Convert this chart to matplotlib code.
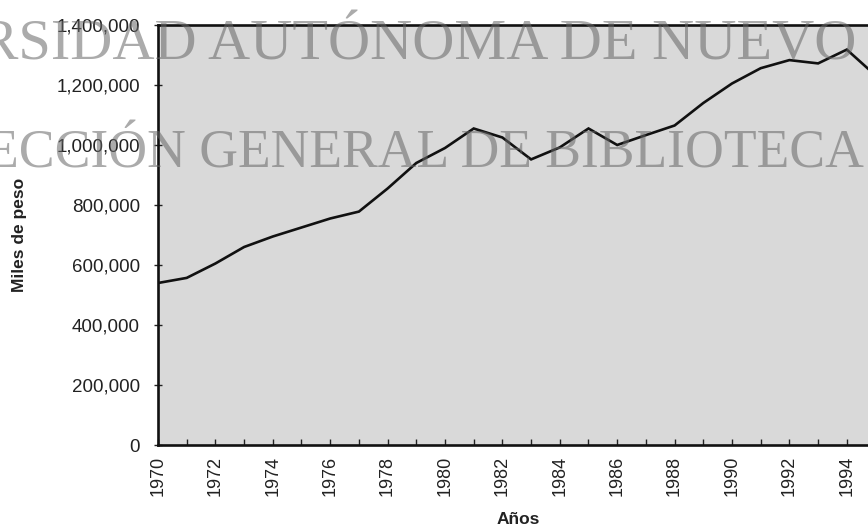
import matplotlib
matplotlib.use('Agg')
import matplotlib.pyplot as plt
from matplotlib.ticker import FuncFormatter, MultipleLocator

# Values (miles de pesos)
years = [1970, 1971, 1972, 1973, 1974, 1975, 1976, 1977, 1978, 1979,
         1980, 1981, 1982, 1983, 1984, 1985, 1986, 1987, 1988, 1989,
         1990, 1991, 1992, 1993, 1994, 1995]
values = [540000, 557000, 605000, 660000, 695000, 725000, 755000, 778000, 855000, 940000,
          990000, 1055000, 1025000, 952000, 992000, 1055000, 1000000, 1033000, 1065000, 1140000,
          1205000, 1256000, 1283000, 1272000, 1318000, 1232000]
x_labels = [str(y) for y in range(1970, 1995, 2)]
watermark = ['UNIVERSIDAD AUTÓNOMA DE NUEVO', 'DIRECCIÓN GENERAL DE BIBLIOTECA']

plt.rcParams['font.family'] = ['Liberation Sans', 'DejaVu Sans']

W, H = 868, 531
fig = plt.figure(figsize=(W / 100, H / 100), dpi=100)
ax = fig.add_axes([158 / W, 1 - 445 / H, (W - 158) / W, (445 - 25) / H])
ax.set_facecolor('#d9d9d9')

ax.plot(years, values, color='#111111', lw=1.9, solid_joinstyle='miter')

ax.set_xlim(1970, 1970 + (W - 158) / 28.7)
ax.set_ylim(0, 1400000)

ax.xaxis.set_minor_locator(MultipleLocator(1))
ax.set_xticks(range(1970, 1995, 2))
ax.set_xticklabels(x_labels, rotation=90, fontsize=13)
ax.yaxis.set_major_locator(MultipleLocator(200000))
ax.yaxis.set_major_formatter(FuncFormatter(lambda v, p: f'{int(v):,}'))
ax.tick_params(axis='y', labelsize=13.5, direction='inout', length=6, width=1, pad=10, colors='#222222')
ax.tick_params(axis='x', which='both', direction='in', length=4, width=1, pad=8, colors='#222222')

for side in ['top', 'left', 'bottom']:
    ax.spines[side].set_linewidth(1.9)
    ax.spines[side].set_color('#111111')
ax.spines['right'].set_visible(False)

fig.text(20 / W, 1 - 235 / H, 'Miles de peso', rotation=90, ha='center', va='center',
         fontsize=12.5, fontweight='bold', color='#222222')
fig.text(518 / W, 1 - 520 / H, 'Años', ha='center', va='center',
         fontsize=12.5, fontweight='bold', color='#222222')

# scanned library watermark
fig.text(856 / W, 1 - 60 / H, watermark[0], ha='right', va='baseline',
         fontsize=42, family='Liberation Serif', color='#666666', alpha=0.55)
fig.text(864 / W, 1 - 168 / H, watermark[1], ha='right', va='baseline',
         fontsize=38.6, family='Liberation Serif', color='#666666', alpha=0.55)

fig.savefig('out.png', dpi=100)
